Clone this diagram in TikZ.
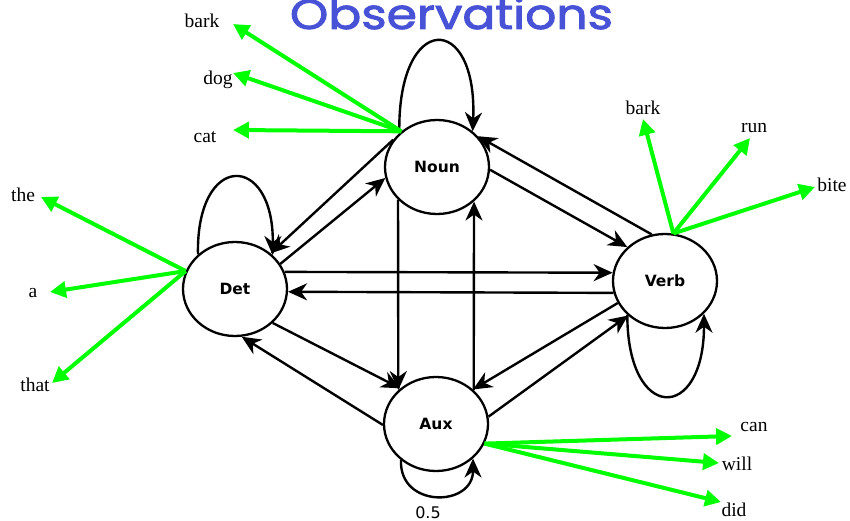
\documentclass[tikz,border=0pt]{standalone}
\usepackage{fontspec}
\setmainfont{Liberation Serif}
\newfontfamily\nodefont{DejaVu Sans}
\newfontfamily\titlefont[FakeBold=2]{Poppins}
\usetikzlibrary{arrows.meta,shapes.geometric}
\definecolor{titleblue}{RGB}{72,82,214}
\definecolor{emitgreen}{RGB}{0,255,0}
\begin{document}
\begin{tikzpicture}[x=1pt,y=-1pt,
  state/.style={ellipse,draw,line width=2.3pt,minimum width=104pt,minimum height=94pt,inner sep=0pt,
    font=\nodefont\bfseries\fontsize{15.5}{18}\selectfont},
  tr/.style={line width=2.4pt,-{Stealth[length=19pt 0 0,width=17pt 0 0,inset=6pt]}},
  emit/.style={draw=emitgreen,line width=4pt,-{Triangle[length=16pt 0 0,width=16pt 0 0]}},
  word/.style={font=\fontsize{19.5}{22}\selectfont,inner sep=0pt,anchor=base},
]
\useasboundingbox (0,0) rectangle (850,521);
\clip (0,0) rectangle (850,521);

% title
\node[anchor=base,inner sep=0pt,text=titleblue] (title) at (451.5,29)
  {\resizebox{323pt}{32pt}{\titlefont Observations}};

% states
\node[state] (noun) at (437,167) {Noun};
\node[state] (det)  at (235,289) {Det};
\node[state] (aux)  at (436,424) {Aux};
\node[state] (verb) at (665,281) {Verb};

% self loops
\draw[tr] (noun.138) .. controls +(-2,-122) and +(5,-120) .. (noun.45);
\draw[tr] (det.137) .. controls +(-2,-103) and +(1,-103) .. (det.42);
\draw[tr] (aux.226) .. controls +(-2,48) and +(0,49) .. (aux.317);
\draw[tr] (verb.222) .. controls +(0,108) and +(0,109) .. (verb.320);

% transitions
\draw[tr] (noun.148) -- (det.45);
\draw[tr] (det.29) -- (noun.192);
\draw[tr] (det.19) -- (verb.171);
\draw[tr] (verb.193) -- (det.357);
\draw[tr] (noun.220) -- (aux.138);
\draw[tr] (aux.42) -- (noun.317);
\draw[tr] (noun.357) -- (verb.138);
\draw[tr] (verb.106) -- (noun.37);
\draw[tr] (verb.205) -- (aux.43);
\draw[tr] (aux.8) -- (verb.223);
\draw[tr] (det.318) -- (aux.135);
\draw[tr] (aux.181) -- (det.278);

% emission tips
\coordinate (tNbark) at (233,24);
\coordinate (tNdog)  at (233,73);
\coordinate (tNcat)  at (233,130);
\coordinate (tDthe)  at (41,197);
\coordinate (tDa)    at (50,292);
\coordinate (tDthat) at (52,383);
\coordinate (tVbark) at (643,119);
\coordinate (tVrun)  at (750,138);
\coordinate (tVbite) at (815,187);
\coordinate (tAcan)  at (732,436);
\coordinate (tAwill) at (719,463);
\coordinate (tAdid)  at (721,502);

\draw[emit] (noun.135) -- (tNbark);
\draw[emit] (noun.135) -- (tNdog);
\draw[emit] (noun.135) -- (tNcat);
\draw[emit] (det.160) -- (tDthe);
\draw[emit] (det.160) -- (tDa);
\draw[emit] (det.160) -- (tDthat);
\draw[emit] (verb.80) -- (tVbark);
\draw[emit] (verb.80) -- (tVrun);
\draw[emit] (verb.80) -- (tVbite);
\draw[emit] (aux.338) -- (tAcan);
\draw[emit] (aux.338) -- (tAwill);
\draw[emit] (aux.338) -- (tAdid);

% words
\node[word] (wNbark) at (202,28) {bark};
\node[word] (wNdog)  at (218,85) {dog};
\node[word] (wNcat)  at (205,143) {cat};
\node[word] (wDthe)  at (23,201.5) {the};
\node[word] (wDa)    at (33,297) {a};
\node[word] (wDthat) at (35,391.5) {that};
\node[word] (wVbark) at (643,115) {bark};
\node[word] (wVrun)  at (754,133) {run};
\node[word] (wVbite) at (832,191.5) {bite};
\node[word] (wAcan)  at (754,431.5) {can};
\node[word] (wAwill) at (737,470) {will};
\node[word] (wAdid)  at (734,516.5) {did};

\node[anchor=base,inner sep=0pt,font=\nodefont\fontsize{16}{18}\selectfont] (prob) at (428,518) {0.5};
\end{tikzpicture}
\end{document}
